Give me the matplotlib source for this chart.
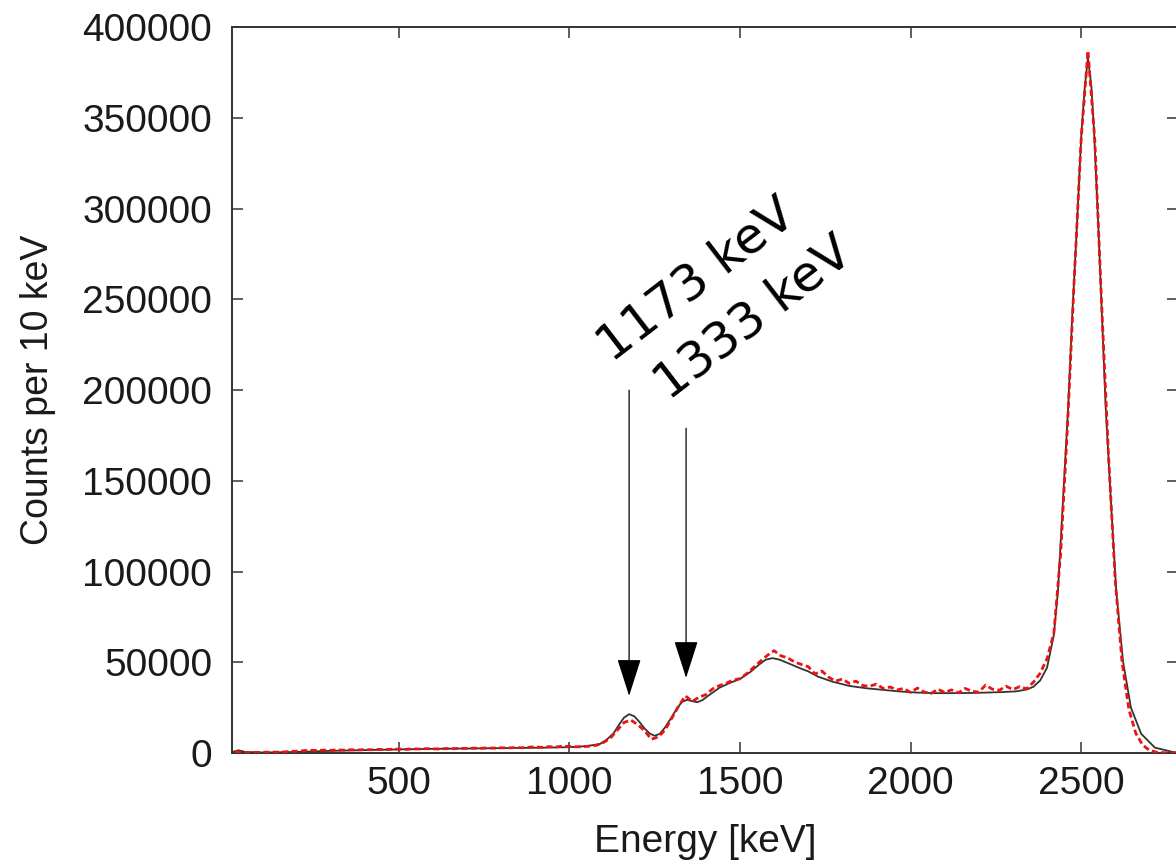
import numpy as np
import matplotlib.pyplot as plt

# simulated spectrum (smooth curve)
sim_energy = [10, 30, 50, 100, 200, 300, 400, 500, 600, 700, 800, 900, 1000,
              1050, 1090, 1110, 1130, 1145, 1160, 1175, 1190, 1205, 1220, 1235,
              1250, 1265, 1280, 1300, 1315, 1330, 1345, 1360, 1375, 1390, 1410,
              1440, 1470, 1500, 1530, 1555, 1575, 1595, 1615, 1640, 1670, 1700,
              1730, 1770, 1820, 1870, 1920, 1970, 2020, 2070, 2120, 2170, 2220,
              2270, 2310, 2340, 2360, 2380, 2400, 2420, 2432, 2447, 2462, 2474,
              2488, 2501, 2511, 2520, 2530, 2538, 2550, 2561, 2572, 2587, 2603,
              2623, 2646, 2676, 2716, 2770, 2800]
sim_counts = [500, 1500, 600, 300, 600, 1200, 1600, 2000, 2300, 2500, 2700, 2900, 3200,
              3800, 5000, 7500, 11000, 15500, 19500, 21400, 20300, 17200, 13600, 10800,
              9500, 10600, 14000, 19800, 24500, 28200, 29300, 28600, 28000, 29200, 32000,
              36000, 38600, 40800, 44600, 48600, 51400, 52300, 51500, 49600, 47200, 45000,
              42000, 39400, 37000, 35700, 34800, 33900, 33300, 33000, 33000, 33100, 33300,
              33600, 34000, 35000, 36500, 40000, 47000, 65000, 89000, 139800, 190500, 241100,
              291800, 342400, 367700, 383000, 367700, 342400, 291800, 241100, 190500, 139800, 89200,
              50300, 25000, 10600, 3000, 500, 200]

# measured spectrum, 20 keV steps from 20 to 2780 keV
meas_energy = np.arange(20, 2800, 20)
meas_counts = [800, 400, 300, 300, 400, 500, 500, 600, 800, 1000,
               1300, 1500, 1400, 1600, 1500, 1700, 1600, 1800, 1700, 1900,
               1800, 2000, 1900, 2100, 2200, 2000, 2300, 2200, 2400, 2300,
               2200, 2500, 2400, 2600, 2500, 2700, 2600, 2800, 2700, 2900,
               2800, 3000, 2900, 3200, 3400, 3100, 3500, 3300, 3800, 3600,
               3400, 3500, 3800, 4300, 5800, 8200, 12500, 16800, 18200, 15600,
               12400, 7600, 8800, 12600, 19200, 25800, 31500, 28400, 30800, 32200,
               35400, 37200, 38500, 40200, 41000, 43800, 47200, 50600, 53800, 56400,
               53600, 52400, 50200, 48800, 47600, 43600, 45200, 41800, 39600, 40800,
               38400, 39600, 37200, 36800, 38000, 35600, 36400, 34800, 35600, 33400,
               35800, 33600, 32800, 35200, 33400, 34800, 33200, 35600, 34000, 33600,
               37400, 35200, 34600, 36800, 35000, 36600, 35400, 39000, 44000, 52000,
               66000, 110000, 180000, 262000, 338000, 387000, 338000, 248000, 165000, 95000,
               50000, 24000, 11000, 4500, 1500, 500, 200, 100, 100]

# marked lines: energy, arrow start, arrow tip, label position
line_labels = ["1173 keV", "1333 keV"]
arrow_x = [1175, 1342]
arrow_top = [200000, 179000]
arrow_tip = [31500, 41400]
label_pos = [(1371, 260800), (1538, 239800)]

plt.rcParams['font.family'] = ['Liberation Sans', 'DejaVu Sans']

fig = plt.figure(figsize=(11.76, 8.61), dpi=100)
ax = fig.add_axes([0.197, 0.1254, 0.805, 0.843])

ax.plot(sim_energy, sim_counts, color='#333333', lw=1.3, zorder=2)
ax.plot(meas_energy, meas_counts, color='#ee1111', lw=2.0, ls=(0, (2.2, 1.2)), zorder=3)

for i in range(len(line_labels)):
    ax.annotate("", xy=(arrow_x[i], arrow_tip[i]), xytext=(arrow_x[i], arrow_top[i]),
                arrowprops=dict(arrowstyle='-|>,head_length=1.19,head_width=0.38',
                                mutation_scale=20, lw=0.9, color='black',
                                shrinkA=0, shrinkB=0))
    ax.text(label_pos[i][0], label_pos[i][1], line_labels[i], rotation=37.5,
            rotation_mode='anchor', ha='center', va='center', fontsize=36,
            family='DejaVu Sans', color='black')

ax.set_xlim(10, 2785)
ax.set_ylim(0, 400000)
ax.set_xticks([500, 1000, 1500, 2000, 2500])
ax.set_yticks(np.arange(0, 400001, 50000))
ax.ticklabel_format(style='plain', useOffset=False)

ax.tick_params(direction='in', length=8, width=1.1, color='#333333',
               top=True, right=True, labelsize=28, labelcolor='#1a1a1a')
ax.tick_params(axis='y', pad=14)
ax.tick_params(axis='x', pad=9)
for sp in ax.spines.values():
    sp.set_color('#333333')
    sp.set_linewidth(1.4)

ax.set_xlabel("Energy [keV]", fontsize=28, color='#1a1a1a', labelpad=16)
ax.set_ylabel("Counts per 10 keV", fontsize=27, color='#1a1a1a', labelpad=19)

fig.savefig("out.png", dpi=100)
